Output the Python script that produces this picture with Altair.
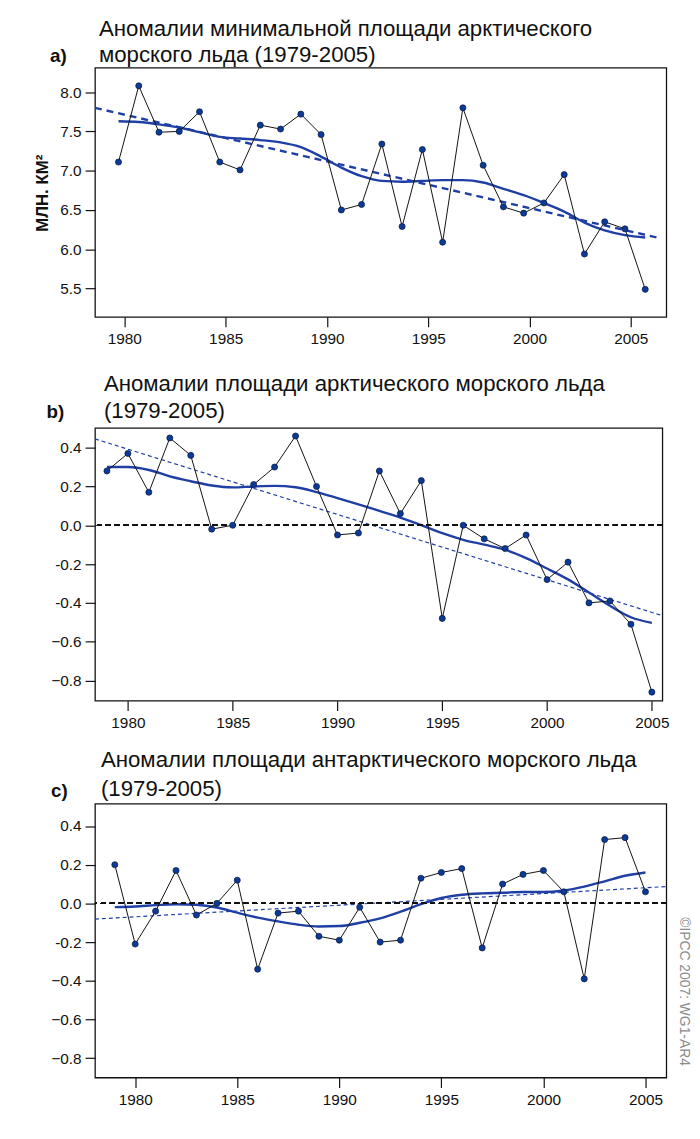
import altair as alt
import pandas as pd

# ---------------- data ----------------
years = list(range(1979, 2006))
SEPT_FRACTION = 0.71  # panel a: September minimum, plotted at mid-September of each year

x_ticks = [1980, 1985, 1990, 1995, 2000, 2005]

# a) September minimum Arctic sea-ice area, million km²
a_values = [7.11, 8.08, 7.49, 7.50, 7.75, 7.11, 7.01, 7.58, 7.53, 7.72, 7.46, 6.50, 6.57, 7.34,
            6.29, 7.27, 6.09, 7.80, 7.07, 6.54, 6.46, 6.59, 6.95, 5.94, 6.35, 6.26, 5.49]
a_smooth = [7.63, 7.62, 7.59, 7.55, 7.49, 7.43, 7.41, 7.39, 7.36, 7.30, 7.18, 7.04, 6.93, 6.87,
            6.86, 6.87, 6.88, 6.88, 6.85, 6.77, 6.69, 6.59, 6.48, 6.34, 6.24, 6.18, 6.15]
a_trend_years = [1978.55, 2006.45]
a_trend_values = [7.80, 6.14]
a_yticks = [5.5, 6.0, 6.5, 7.0, 7.5, 8.0]

# b) Arctic sea-ice area anomalies
b_values = [0.28, 0.37, 0.17, 0.45, 0.36, -0.02, 0.00, 0.21, 0.30, 0.46, 0.20, -0.05, -0.04, 0.28,
            0.06, 0.23, -0.48, 0.00, -0.07, -0.12, -0.05, -0.28, -0.19, -0.40, -0.39, -0.51, -0.86]
b_smooth = [0.30, 0.30, 0.285, 0.252, 0.227, 0.205, 0.195, 0.20, 0.203, 0.196, 0.171, 0.14, 0.108,
            0.074, 0.04, 0.001, -0.041, -0.075, -0.10, -0.126, -0.169, -0.223, -0.279, -0.347,
            -0.415, -0.474, -0.503]
b_trend_years = [1978.43, 2005.5]
b_trend_values = [0.445, -0.466]

# c) Antarctic sea-ice area anomalies
c_values = [0.20, -0.21, -0.04, 0.17, -0.06, 0.00, 0.12, -0.34, -0.05, -0.04, -0.17, -0.19, -0.02,
            -0.20, -0.19, 0.13, 0.16, 0.18, -0.23, 0.10, 0.15, 0.17, 0.06, -0.39, 0.33, 0.34, 0.06]
c_smooth = [-0.019, -0.016, -0.009, -0.004, -0.007, -0.021, -0.048, -0.073, -0.093, -0.110, -0.119,
            -0.117, -0.100, -0.077, -0.043, -0.004, 0.028, 0.045, 0.052, 0.055, 0.059, 0.059, 0.067,
            0.087, 0.114, 0.143, 0.160]
c_trend_years = [1978.03, 2006.0]
c_trend_values = [-0.081, 0.087]

bc_yticks = [0.4, 0.2, 0.0, -0.2, -0.4, -0.6, -0.8]
b_ytick_labels = ["0.4", "0.2", "0.0", "-0.2", "-0.4", "\u22120.6", "\u22120.8"]
c_ytick_labels = ["0.4", "0.2", "0.0", "-0.2", "\u22120.4", "\u22120.6", "\u22120.8"]

a_title = ["Аномалии минимальной площади арктического", "морского льда (1979-2005)"]
b_title = ["Аномалии площади арктического морского льда", "(1979-2005)"]
c_title = ["Аномалии площади антарктического морского льда", "(1979-2005)"]
a_ylabel = "МЛН. КМ²"
copyright_text = "©IPCC  2007: WG1-AR4"

# ---------------- styles ----------------
BLUE = "#1f3fa5"
PT_FILL = "#0b3b96"
TITLE_FONT = "Liberation Sans"
TICK_FONT = "Liberation Sans"
TITLE_SIZE = 22.5


def text_layer(txt, x, y, size, weight="normal", font=TITLE_FONT, align="left",
               baseline="alphabetic", angle=0, color="#111"):
    return alt.Chart(pd.DataFrame({"t": [txt]})).mark_text(
        font=font, fontSize=size, fontWeight=weight, align=align, baseline=baseline,
        angle=angle, color=color
    ).encode(text="t:N", x=alt.value(x), y=alt.value(y))


def layout_anchor(x1, y1, x2, y2):
    # invisible rule that fixes the panel's outer extent for the concat layout
    return alt.Chart(pd.DataFrame({"t": [0]})).mark_rule(opacity=0, strokeWidth=0.1).encode(
        x=alt.value(x1), y=alt.value(y1), x2=alt.value(x2), y2=alt.value(y2))


def make_panel(xs, vals, sm, tr_x, tr_y, xdom, ydom, yticks, label_expr, width, height,
               trend_width, trend_dash, zero_line, extra_layers):
    pts = pd.DataFrame({"x": xs, "y": vals})
    smdf = pd.DataFrame({"x": xs, "y": sm})
    trdf = pd.DataFrame({"x": tr_x, "y": tr_y})
    xenc = alt.X("x:Q", scale=alt.Scale(domain=xdom, nice=False, zero=False),
                 axis=alt.Axis(values=x_ticks, format="d", title=None, labelPadding=5))
    if label_expr is not None:
        yaxis = alt.Axis(values=yticks, title=None, labelPadding=4, labelExpr=label_expr)
    else:
        yaxis = alt.Axis(values=yticks, title=None, labelPadding=4, format=".1f")
    yenc = alt.Y("y:Q", scale=alt.Scale(domain=ydom, nice=False, zero=False), axis=yaxis)

    layers = [
        alt.Chart(trdf).mark_line(color=BLUE, strokeWidth=trend_width, strokeDash=trend_dash,
                                  clip=True).encode(x=xenc, y=yenc),
        alt.Chart(smdf).mark_line(color=BLUE, strokeWidth=2.4, interpolate="monotone",
                                  clip=True).encode(x=xenc, y=yenc),
    ]
    if zero_line:
        layers.append(alt.Chart(pts).mark_rule(color="#111", strokeDash=[5, 4], strokeWidth=1.3)
                      .encode(y=alt.datum(0)))
    layers += [
        alt.Chart(pts).mark_line(color="#111", strokeWidth=1).encode(x=xenc, y=yenc),
        alt.Chart(pts).mark_circle(size=38, color=PT_FILL, stroke="#0a1640", strokeWidth=0.7,
                                   opacity=1).encode(x=xenc, y=yenc),
    ]
    layers += extra_layers
    return alt.layer(*layers).properties(width=width, height=height)


def expr_from_labels(labels):
    arr = "[" + ",".join("'" + s + "'" for s in labels) + "]"
    return arr + "[round((0.4 - datum.value) / 0.2)]"


W_A, H_A = 578, 252
W_B, H_B = 574, 276
W_C, H_C = 578, 277

panel_a = make_panel(
    [y + SEPT_FRACTION for y in years], a_values, a_smooth, a_trend_years, a_trend_values,
    [1978.55, 2006.75], [5.14, 8.31], a_yticks, None, W_A, H_A, 2.4, [7, 5], False,
    [
        text_layer(a_title[0], 4, -32, TITLE_SIZE),
        text_layer(a_title[1], 4, -6, TITLE_SIZE),
        text_layer("a)", -37, -6, 19, weight="bold", font=TICK_FONT, align="center"),
        text_layer(a_ylabel, -53, 127, 17, weight="bold", font=TICK_FONT, align="center",
                   baseline="middle", angle=270),
        layout_anchor(-87, -70, 0, H_A + 41),
    ],
)

panel_b = make_panel(
    years, b_values, b_smooth, b_trend_years, b_trend_values,
    [1978.43, 2005.5], [-0.904, 0.502], bc_yticks, expr_from_labels(b_ytick_labels),
    W_B, H_B, 1.2, [4, 3], True,
    [
        text_layer(b_title[0], 9, -37, TITLE_SIZE),
        text_layer(b_title[1], 9, -10, TITLE_SIZE),
        text_layer("b)", -40, -10, 19, weight="bold", font=TICK_FONT, align="center"),
        layout_anchor(0, -60, 0, H_B + 33),
    ],
)

panel_c = make_panel(
    years, c_values, c_smooth, c_trend_years, c_trend_values,
    [1978.03, 2006.02], [-0.90, 0.515], bc_yticks, expr_from_labels(c_ytick_labels),
    W_C, H_C, 1.2, [4, 3], True,
    [
        text_layer(c_title[0], 6, -37, TITLE_SIZE),
        text_layer(c_title[1], 6, -8, TITLE_SIZE),
        text_layer("c)", -36, -7, 19, weight="bold", font=TICK_FONT, align="center"),
        text_layer(copyright_text, W_C + 18, 190, 14, font=TICK_FONT, align="center",
                   baseline="middle", angle=90, color="#8a8a8a"),
        layout_anchor(0, -60, 0, 0),
    ],
)

chart = alt.vconcat(panel_a, panel_b, panel_c, spacing=9.3).properties(
    padding={"left": 0, "top": -17, "right": 0, "bottom": 0}
).configure_view(
    stroke="#111", strokeWidth=1.3
).configure_axis(
    domain=False, grid=False, ticks=True, tickColor="#111", tickSize=10, tickWidth=1.2,
    labelFont=TICK_FONT, labelFontSize=15.5, labelColor="#111"
)

chart.save("out.html", embed_options={"renderer": "svg", "actions": False})
